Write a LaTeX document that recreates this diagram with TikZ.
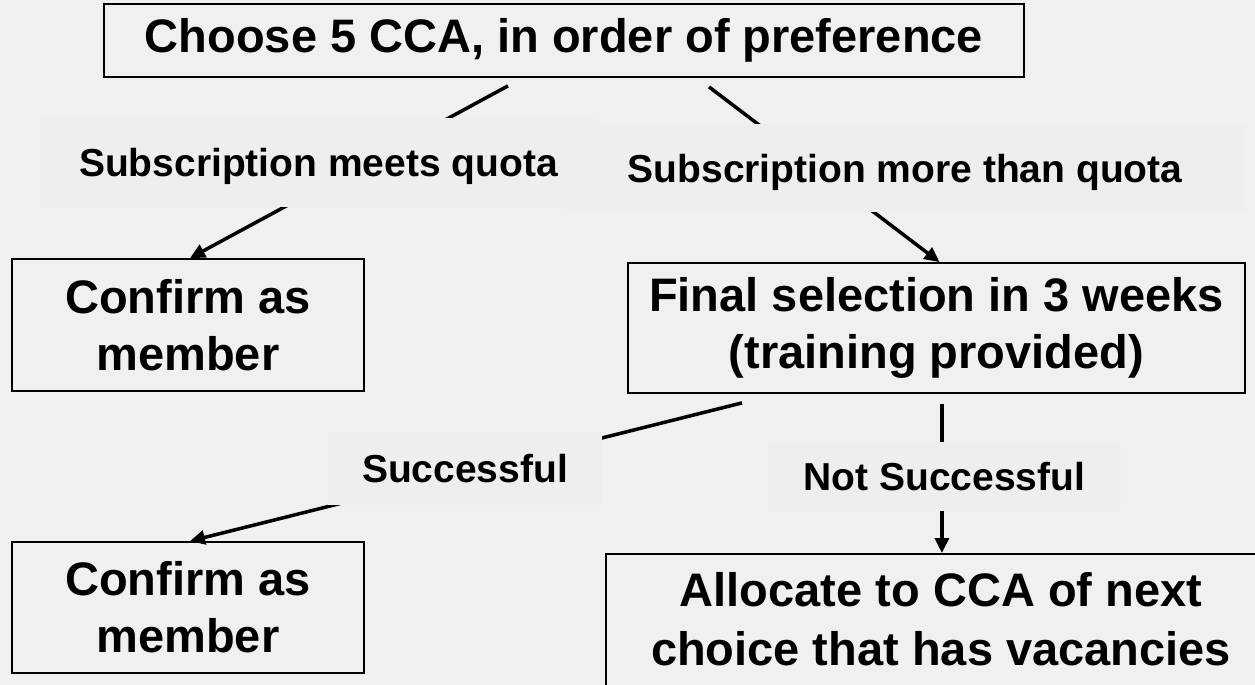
\documentclass[tikz,border=0pt]{standalone}
\usepackage{fontspec}
\setmainfont{Liberation Sans}
\usetikzlibrary{arrows.meta,calc}
\definecolor{bgcol}{HTML}{F0F0F0}
\definecolor{labbg}{HTML}{EEEEEE}
\begin{document}
\begin{tikzpicture}[x=1pt,y=-1pt,
  boxst/.style={draw=black, line width=1.8pt, font=\fontsize{47}{57}\selectfont\bfseries, align=center, inner sep=0pt},
  btext/.style={font=\fontsize{47}{59}\selectfont\bfseries, align=center, inner sep=0pt},
  labst/.style={fill=labbg, font=\fontsize{39}{46}\selectfont\bfseries, inner sep=0pt, text height=28pt, text depth=0pt},
  arr/.style={line width=3.5pt, -{Triangle[length=15pt,width=14pt]}}]
\useasboundingbox (0,0) rectangle (1255,685);
\clip (0,0) rectangle (1255,685);
\fill[bgcol] (0,0) rectangle (1255,685);
% boxes
\node[boxst, minimum width=920pt, minimum height=73pt] (title) at (564,40.5) {Choose 5 CCA, in order of preference};
\node[boxst, minimum width=352pt, minimum height=132pt] (conf1) at (188,325) {Confirm as\\member};
\node[boxst, minimum width=617pt, minimum height=130pt] (final) at (936.5,328) {Final selection in 3 weeks\\(training provided)};
\node[boxst, minimum width=352pt, minimum height=131pt] (conf2) at (188,607.5) {Confirm as\\member};
\node[draw=black, line width=1.8pt, minimum width=672pt, minimum height=170pt, anchor=north west, inner sep=0pt] (alloc) at (605,553) {};
\node[btext] (alloctxt) at (941,619) {Allocate to CCA of next\\choice that has vacancies};
% connectors
\draw[arr] ([shift={(-56,8)}]title.south) -- ([xshift=2pt]conf1.north);
\draw[arr] ([shift={(145,9)}]title.south) -- ([xshift=3pt]final.north);
\draw[arr] ([shift={(-194.5,9)}]final.south) -- ([xshift=2pt]conf2.north);
\draw[arr] ($(final.south -| alloc.north)+(0,10)$) -- (alloc.north);
% labels
\node[labst, minimum width=557pt, minimum height=89pt] (lab1) at (318.5,162) {Subscription meets quota};
\node[labst, minimum width=680pt, minimum height=88pt] (lab2) at (905,168) {Subscription more than quota};
\node[labst, minimum width=274pt, minimum height=73pt] (lab3) at (465,468) {Successful};
\node[labst, minimum width=353pt, minimum height=69pt] (lab4) at (944.5,476) {Not Successful};
\end{tikzpicture}
\end{document}
